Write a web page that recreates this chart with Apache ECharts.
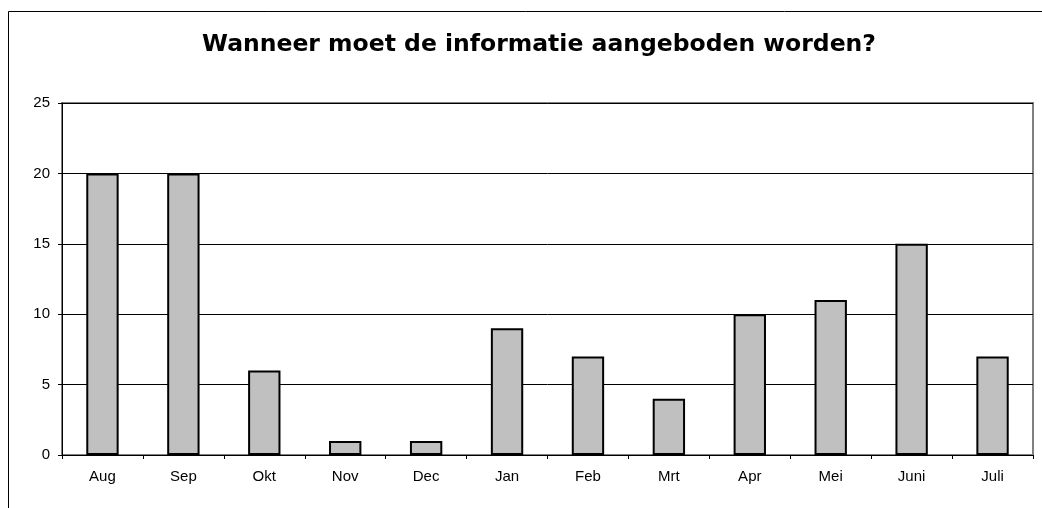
<!DOCTYPE html>
<html>
<head>
<meta charset="utf-8">
<title>Wanneer moet de informatie aangeboden worden?</title>
<script src="https://cdn.jsdelivr.net/npm/echarts@6/dist/echarts.min.js"></script>
<style>
  html, body { margin: 0; padding: 0; background: #fff; }
  #main { width: 1042px; height: 508px; }
</style>
</head>
<body>
<div id="main"></div>
<script>
// maanden en aantallen
var maanden = ['Aug', 'Sep', 'Okt', 'Nov', 'Dec', 'Jan', 'Feb', 'Mrt', 'Apr', 'Mei', 'Juni', 'Juli'];
var aantallen = [20, 20, 6, 1, 1, 9, 7, 4, 10, 11, 15, 7];
var titel = 'Wanneer moet de informatie aangeboden worden?';

var chart = echarts.init(document.getElementById('main'));

chart.setOption({
    animation: false,
    textStyle: { fontFamily: 'Liberation Sans, Arial, sans-serif' },
    title: {
        text: titel,
        left: 534,
        textAlign: 'center',
        top: 28,
        textStyle: { fontSize: 23.5, fontWeight: 'bold', color: '#000', fontFamily: 'DejaVu Sans, sans-serif' }
    },
    // kader rond de hele grafiek
    graphic: [{
        type: 'rect',
        shape: { x: 8.5, y: 11.5, width: 1100, height: 600 },
        style: { fill: 'none', stroke: '#000', lineWidth: 1 },
        silent: true
    }],
    grid: {
        left: 62, top: 103, right: 9, bottom: 53,
        show: true,
        borderColor: '#808080',
        borderWidth: 2
    },
    xAxis: {
        type: 'category',
        data: maanden,
        axisLine: { lineStyle: { color: '#000', width: 1 } },
        axisTick: { show: true, length: 4, lineStyle: { color: '#000' } },
        axisLabel: { color: '#000', fontSize: 15, margin: 14 }
    },
    yAxis: {
        type: 'value',
        min: 0, max: 25, interval: 5,
        axisLine: { show: true, lineStyle: { color: '#000', width: 1 } },
        axisTick: { show: true, length: 4, lineStyle: { color: '#000' } },
        axisLabel: { color: '#000', fontSize: 15, margin: 12 },
        splitLine: { show: true, lineStyle: { color: '#000', width: 1 } }
    },
    series: [{
        type: 'bar',
        data: aantallen,
        barWidth: '40%',
        itemStyle: { color: '#C0C0C0', borderColor: '#000', borderWidth: 2 }
    }]
});
</script>
</body>
</html>
